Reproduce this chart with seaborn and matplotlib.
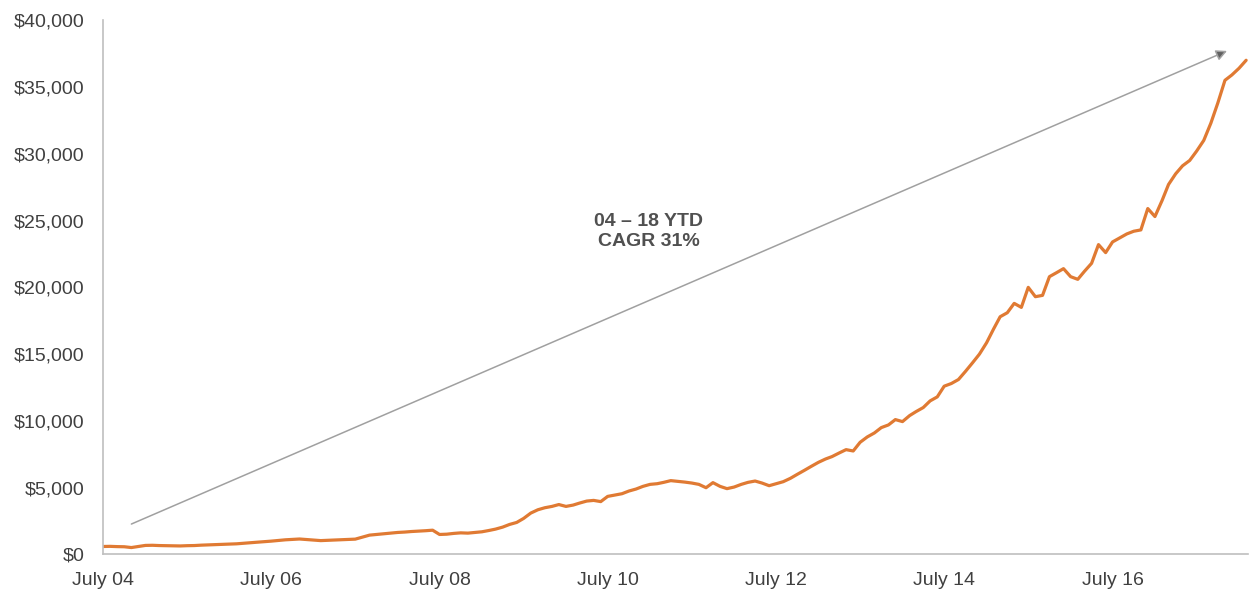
import matplotlib
matplotlib.use("Agg")
import matplotlib.pyplot as plt
import seaborn as sns
import pandas as pd
import numpy as np

# Monthly series, July 2004 - February 2018 (US$)
start_month = "2004-07-01"
values = [
    600, 610, 590, 580, 520, 600, 680, 690, 670, 660, 650, 640,          # Jul04-Jun05
    660, 670, 700, 720, 740, 760, 780, 800, 840, 880, 920, 960,          # Jul05-Jun06
    1000, 1050, 1100, 1130, 1160, 1120, 1080, 1040, 1060, 1090, 1110, 1130,  # Jul06-Jun07
    1150, 1300, 1450, 1500, 1550, 1600, 1650, 1680, 1720, 1750, 1780, 1820,  # Jul07-Jun08
    1500, 1520, 1580, 1620, 1600, 1650, 1700, 1800, 1900, 2050, 2250, 2400,  # Jul08-Jun09
    2700, 3100, 3350, 3500, 3600, 3740, 3600, 3700, 3850, 4000, 4050, 3960,  # Jul09-Jun10
    4350, 4450, 4550, 4750, 4900, 5100, 5250, 5300, 5400, 5530, 5480, 5420,  # Jul10-Jun11
    5350, 5250, 5000, 5380, 5100, 4930, 5050, 5250, 5400, 5500, 5350, 5150,  # Jul11-Jun12
    5300, 5450, 5700, 6000, 6300, 6600, 6900, 7150, 7330, 7600, 7850, 7750,  # Jul12-Jun13
    8400, 8800, 9100, 9500, 9700, 10100, 9950, 10400, 10700, 11000, 11500, 11800,  # Jul13-Jun14
    12600, 12800, 13100, 13700, 14350, 15000, 15850, 16900, 17800, 18100, 18800, 18500,  # Jul14-Jun15
    20000, 19300, 19400, 20800, 21100, 21400, 20800, 20600, 21200, 21800, 23200, 22600,  # Jul15-Jun16
    23400, 23700, 24000, 24200, 24300, 25900, 25300, 26500, 27700, 28500, 29100, 29500,  # Jul16-Jun17
    30200, 31000, 32300, 33800, 35500, 35900, 36400, 37000,              # Jul17-Feb18
]
dates = pd.date_range(start_month, periods=len(values), freq="MS")

x_tick_dates = ["2004-07-01", "2006-07-01", "2008-07-01", "2010-07-01",
                "2012-07-01", "2014-07-01", "2016-07-01"]
x_tick_labels = ["July 04", "July 06", "July 08", "July 10",
                 "July 12", "July 14", "July 16"]
y_ticks = [0, 5000, 10000, 15000, 20000, 25000, 30000, 35000, 40000]

# Trend arrow endpoints and annotation
arrow_start = ("2004-11-01", 2280)
arrow_end = ("2017-11-10", 37700)
note_pos = ("2010-12-25", 24200)
note_text = "04 \u2013 18 YTD\nCAGR 31%"

df = pd.DataFrame({"date": dates, "value": values})

sns.set_style("white")
plt.rcParams["font.family"] = ["Liberation Sans", "DejaVu Sans"]

fig = plt.figure(figsize=(12.49, 5.94), dpi=100)
ax = fig.add_axes([0.0825, 0.0665, 0.9165, 0.8995])

sns.lineplot(data=df, x="date", y="value", ax=ax, color="#E07A33",
             linewidth=2.3)

ax.set_xlim(pd.Timestamp("2004-07-01"), pd.Timestamp("2018-02-08"))
ax.set_ylim(0, 40000)

ax.set_xticks(pd.to_datetime(x_tick_dates))
ax.set_xticklabels(x_tick_labels)
ax.set_yticks(y_ticks)
ax.set_yticklabels([f"${v:,}" for v in y_ticks])
ax.set_xlabel("")
ax.set_ylabel("")

for side in ["top", "right"]:
    ax.spines[side].set_visible(False)
for side in ["left", "bottom"]:
    ax.spines[side].set_color("#BFBFBF")
    ax.spines[side].set_linewidth(1.2)

ax.tick_params(axis="both", which="major", direction="out", length=4.3,
               width=1, color="#BFBFBF", labelcolor="#404040", labelsize=14)
ax.tick_params(axis="x", pad=8)
ax.tick_params(axis="y", pad=9)

ax.annotate("", xy=(pd.Timestamp(arrow_end[0]), arrow_end[1]),
            xytext=(pd.Timestamp(arrow_start[0]), arrow_start[1]),
            arrowprops=dict(arrowstyle="-|>", mutation_scale=16,
                            lw=1.1, ec="#A0A0A0", fc="#606060",
                            shrinkA=0, shrinkB=0))

ax.text(pd.Timestamp(note_pos[0]), note_pos[1], note_text, ha="center",
        va="center", fontsize=14, fontweight="bold", color="#505050",
        linespacing=1.2)

fig.savefig("out.png", dpi=100, facecolor="white")
